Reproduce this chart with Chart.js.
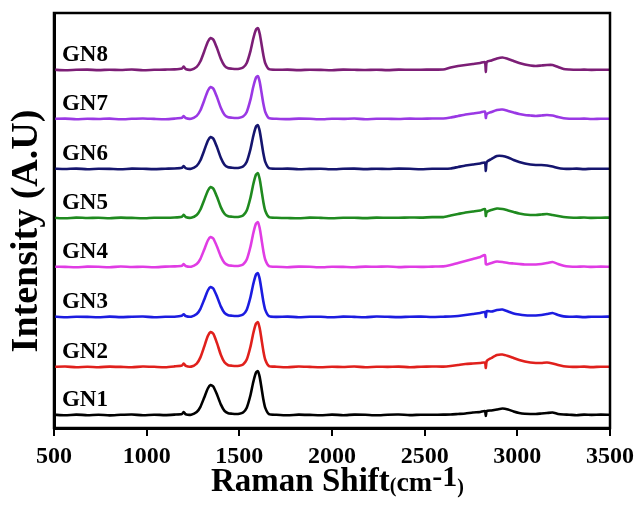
<!DOCTYPE html>
<html>
<head>
<meta charset="utf-8">
<script src="https://cdn.jsdelivr.net/npm/chart.js@4.4.1/dist/chart.umd.min.js"></script>
<style>
  html, body { margin: 0; padding: 0; background: #fff; }
  canvas { display: block; }
</style>
</head>
<body>
<canvas id="c" width="641" height="506"></canvas>
<script>
// Raman shift positions (cm-1), shared by all spectra
const SHIFT = [
  500, 560, 620, 680, 740, 800, 860, 920, 980, 1040, 1100, 1150,
  1190, 1200, 1210,
  1240, 1270, 1290, 1310, 1330, 1345, 1360, 1380, 1400, 1420, 1440, 1460, 1480, 1500,
  1520, 1540, 1560, 1575, 1590, 1600, 1610, 1620, 1630, 1640, 1660,
  1700, 1760, 1820, 1880, 1940, 2000, 2060, 2120, 2180, 2240, 2300, 2360, 2420, 2480, 2540, 2600,
  2640, 2680, 2720, 2760, 2800, 2825, 2830, 2835, 2860, 2890, 2920, 2950, 2980, 3010,
  3040, 3070, 3100, 3130, 3160, 3190, 3220, 3250, 3280, 3320, 3360, 3400, 3450, 3500
];

const NAMES  = ["GN1", "GN2", "GN3", "GN4", "GN5", "GN6", "GN7", "GN8"];
const COLORS = ["#000000", "#e0201c", "#1c1ce0", "#e03ce4", "#1f8a1f", "#15156e", "#9a38e4", "#7c1e76"];
// vertical stacking offset of each spectrum (a.u.)
const OFFSETS = [13, 61, 111, 161, 210, 259, 309, 358];

// intensities (a.u., relative to each baseline)
const GN1 = [
  0.3, -0.3, 0.4, -0.2, 0.3, -0.4, 0.2, 0.5, -0.2, 0.3, -0.1, 0.4,
  1.0, 3.0, 0.8,
  0.3, 2.9, 8.2, 17.2, 26.5, 30.0, 28.4, 20.2, 10.6, 4.1, 1.7, 1.3, 1.0, 1.2,
  2.5, 7.3, 19.7, 32.8, 42.5, 43.8, 37.9, 26.7, 15.3, 7.1, 0.8,
  0.2, -0.3, 0.4, 0.1, -0.3, 0.4, -0.2, 0.4, 0.2, -0.3, 0.3, 0.5, -0.1, 0.3, 0.2, 0.4,
  0.5, 1.0, 1.5, 2.5, 3.0, 4.0, -1.0, 4.0, 4.5, 5.5, 6.5, 5.5, 3.5, 2.0,
  1.2, 1.0, 1.0, 1.5, 2.0, 2.5, 1.0, 0.5, 0.3, -0.2, 0.4, 0.1, 0.4, 0.2
];
const GN2 = [
  0.2, 0.5, -0.3, 0.3, -0.2, 0.4, 0.1, -0.3, 0.5, 0.2, -0.2, 0.6,
  1.5, 3.5, 1.2,
  0.4, 3.4, 9.6, 20.1, 30.9, 35.0, 33.1, 23.6, 12.3, 4.7, 1.8, 1.3, 1.0, 1.3,
  2.5, 7.4, 20.2, 33.5, 43.4, 44.8, 38.8, 27.3, 15.6, 7.3, 0.9,
  0.3, -0.2, 0.5, 0.1, -0.3, 0.3, 0.0, 0.5, -0.2, 0.3, 0.1, 0.4, -0.2, 0.3, 0.5, 0.4,
  1.0, 2.0, 3.0, 3.5, 4.0, 4.5, -1.0, 6.0, 9.0, 12.0, 12.5, 11.0, 9.0, 7.0,
  5.5, 4.5, 4.0, 4.0, 4.5, 3.5, 2.0, 0.8, 0.3, 0.1, 0.4, -0.1, 0.3, 0.2
];
const GN3 = [
  0.4, -0.2, 0.3, 0.1, -0.3, 0.4, -0.1, 0.3, 0.5, -0.2, 0.2, 0.3,
  1.2, 2.8, 1.0,
  0.3, 2.9, 8.2, 17.2, 26.5, 30.0, 28.4, 20.2, 10.6, 4.1, 1.7, 1.3, 1.0, 1.2,
  2.5, 7.3, 19.7, 32.8, 42.5, 43.8, 37.9, 26.7, 15.3, 7.1, 0.8,
  0.1, 0.4, -0.2, 0.3, 0.2, -0.3, 0.4, 0.1, -0.2, 0.5, 0.2, -0.1, 0.3, 0.4, 0.0, 0.3,
  0.5, 1.0, 2.0, 3.0, 4.0, 5.0, 0.0, 6.0, 5.5, 7.0, 7.5, 5.5, 3.5, 2.5,
  1.8, 1.5, 1.5, 2.0, 3.0, 4.0, 2.0, 0.6, 0.2, 0.4, -0.1, 0.3, 0.2, 0.4
];
const GN4 = [
  0.3, 0.1, -0.3, 0.4, 0.2, -0.2, 0.5, 0.0, 0.3, -0.3, 0.4, 0.6,
  1.2, 3.0, 1.0,
  0.3, 2.9, 8.2, 17.2, 26.5, 30.0, 28.4, 20.2, 10.6, 4.1, 1.7, 1.3, 1.0, 1.2,
  2.5, 7.4, 20.2, 33.5, 43.4, 44.8, 38.8, 27.3, 15.6, 7.3, 0.9,
  0.2, -0.2, 0.4, 0.2, -0.3, 0.3, 0.1, -0.2, 0.4, 0.2, 0.5, -0.1, 0.3, 0.1, 0.4, 0.6,
  2.0, 4.0, 6.0, 8.0, 10.0, 12.0, 3.0, 2.5, 4.0, 5.5, 5.0, 4.0, 3.5, 3.0,
  2.5, 2.5, 2.5, 3.0, 4.0, 5.0, 3.0, 1.2, 0.5, 0.3, 0.5, 0.1, 0.4, 0.2
];
const GN5 = [
  0.2, -0.3, 0.4, 0.0, 0.3, -0.2, 0.4, 0.1, -0.3, 0.3, 0.2, 0.5,
  1.3, 3.2, 1.0,
  0.3, 3.0, 8.5, 17.8, 27.3, 31.0, 29.3, 20.9, 10.9, 4.2, 1.7, 1.3, 1.0, 1.2,
  2.5, 7.4, 20.2, 33.5, 43.4, 44.8, 38.8, 27.3, 15.6, 7.3, 0.9,
  0.3, 0.0, -0.3, 0.4, 0.1, -0.2, 0.3, 0.2, -0.1, 0.4, 0.2, 0.3, 0.5, 0.4, 0.9, 0.9,
  2.5, 4.0, 5.5, 6.5, 7.5, 9.0, 2.0, 6.0, 8.0, 9.5, 9.0, 7.5, 6.0, 4.5,
  3.5, 3.0, 3.0, 3.5, 4.0, 3.0, 2.0, 1.0, 0.5, 0.2, 0.5, 0.1, 0.3, 0.4
];
const GN6 = [
  0.3, 0.0, 0.4, -0.2, 0.3, 0.1, -0.3, 0.4, 0.2, -0.1, 0.3, 0.5,
  1.2, 3.0, 0.9,
  0.3, 3.1, 8.7, 18.3, 28.2, 32.0, 30.3, 21.6, 11.3, 4.3, 1.7, 1.3, 1.0, 1.2,
  2.5, 7.3, 19.7, 32.8, 42.5, 43.8, 37.9, 26.7, 15.3, 7.1, 0.8,
  0.2, 0.4, -0.2, 0.1, 0.3, -0.3, 0.2, 0.4, -0.1, 0.3, 0.0, 0.4, 0.2, -0.2, 0.3, 0.2,
  0.5, 2.0, 3.5, 4.5, 5.5, 6.5, -2.0, 7.0, 10.0, 13.0, 13.0, 11.5, 9.0, 7.0,
  5.5, 4.5, 4.0, 4.0, 3.5, 2.5, 1.0, 0.3, 0.1, 0.4, -0.1, 0.3, 0.2, 0.3
];
const GN7 = [
  0.1, 0.4, -0.2, 0.3, 0.0, 0.4, -0.3, 0.2, 0.5, 0.1, -0.2, 0.4,
  1.2, 3.0, 1.0,
  0.3, 3.1, 8.7, 18.3, 28.2, 32.0, 30.3, 21.6, 11.3, 4.3, 1.7, 1.3, 1.0, 1.2,
  2.5, 7.1, 19.3, 32.0, 41.5, 42.8, 37.1, 26.1, 14.9, 7.0, 0.8,
  0.3, -0.1, 0.4, 0.2, -0.3, 0.3, 0.1, 0.5, -0.2, 0.3, 0.2, 0.0, 0.4, 0.2, 0.5, 0.5,
  1.5, 3.0, 4.5, 5.5, 6.5, 7.5, 1.0, 5.0, 7.0, 9.0, 9.5, 8.0, 6.5, 5.0,
  4.0, 3.5, 3.0, 3.5, 4.0, 3.5, 2.0, 0.8, 0.3, 0.2, 0.4, 0.0, 0.3, 0.3
];
const GN8 = [
  0.3, -0.2, 0.2, 0.4, -0.1, 0.3, 0.0, 0.5, -0.2, 0.2, 0.4, 0.6,
  1.5, 3.5, 1.0,
  0.3, 3.1, 8.7, 18.3, 28.2, 32.0, 30.3, 21.6, 11.3, 4.3, 1.7, 1.3, 1.0, 1.2,
  2.4, 7.0, 18.8, 31.3, 40.5, 41.8, 36.2, 25.5, 14.6, 6.8, 0.8,
  0.2, 0.4, -0.1, 0.3, 0.1, -0.2, 0.4, 0.2, 0.0, 0.3, -0.1, 0.4, 0.2, 0.3, 0.4, 0.5,
  2.5, 4.0, 5.0, 6.0, 7.0, 8.0, -2.0, 8.0, 9.5, 11.5, 12.5, 11.0, 9.0, 7.0,
  5.5, 4.5, 4.0, 4.5, 5.0, 5.0, 3.0, 1.0, 0.5, 0.2, 0.4, 0.1, 0.3, 0.2
];
const SPECTRA = [GN1, GN2, GN3, GN4, GN5, GN6, GN7, GN8];

const X_TICKS = [500, 1000, 1500, 2000, 2500, 3000, 3500];
const SERIF = "'Liberation Serif', 'Times New Roman', serif";

// -------------------------------------------------------------
// labels, axis titles and the box around the plot
// -------------------------------------------------------------
const decor = {
  id: "decor",
  afterDraw(chart){
    const {ctx, chartArea: a, scales: {x, y}} = chart;
    ctx.save();

    // frame
    ctx.strokeStyle = "#000";
    ctx.lineWidth = 2.5;
    ctx.strokeRect(a.left, a.top, a.right - a.left, a.bottom - a.top);

    // GN labels above each baseline
    ctx.fillStyle = "#000";
    ctx.textAlign = "left";
    ctx.textBaseline = "alphabetic";
    ctx.font = "bold 23px " + SERIF;
    NAMES.forEach((n, i) => {
      ctx.fillText(n, x.getPixelForValue(543), y.getPixelForValue(OFFSETS[i] + 9));
    });

    // y title
    ctx.save();
    ctx.translate(37, 231);
    ctx.rotate(-Math.PI / 2);
    ctx.textAlign = "center";
    ctx.font = "bold 38px " + SERIF;
    ctx.fillText("Intensity (A.U)", 0, 0);
    ctx.restore();

    // x title: Raman Shift(cm-1)
    const parts = [
      ["Raman Shift", 33, 491],
      ["(", 20, 492],
      ["cm", 28, 491],
      ["-1", 30, 486],
      [")", 20, 493],
    ];
    let px = 211;
    ctx.textAlign = "left";
    for(const [t, s, by] of parts){
      ctx.font = "bold " + s + "px " + SERIF;
      ctx.fillText(t, px, by);
      px += ctx.measureText(t).width;
    }
    ctx.restore();
  }
};

new Chart(document.getElementById("c"), {
  type: "line",
  data: {
    datasets: SPECTRA.map((s, i) => ({
      label: NAMES[i],
      data: SHIFT.map((sx, k) => ({x: sx, y: s[k] + OFFSETS[i]})),
      borderColor: COLORS[i],
      borderWidth: 2.6,
      pointRadius: 0,
      tension: 0.2,
      fill: false
    }))
  },
  options: {
    responsive: false,
    animation: false,
    events: [],
    layout: { padding: { top: 13, right: 31, left: 0, bottom: 0 } },
    plugins: { legend: { display: false }, tooltip: { enabled: false } },
    scales: {
      x: {
        type: "linear",
        min: 500, max: 3500,
        afterBuildTicks: s => { s.ticks = X_TICKS.map(v => ({value: v})); },
        afterFit: s => { s.height = 78; },
        grid: { display: true, drawOnChartArea: false, drawTicks: true, tickLength: 8, color: "#000", lineWidth: 2 },
        border: { display: true, color: "#000", width: 3 },
        ticks: { color: "#000", padding: 6, maxRotation: 0, autoSkip: false,
                 callback: v => String(v),
                 font: { family: SERIF, size: 24, weight: "bold" } }
      },
      y: {
        min: 0, max: 415,
        afterFit: s => { s.width = 54; },
        grid: { display: false },
        border: { display: true, color: "#000", width: 3 },
        ticks: { display: false }
      }
    }
  },
  plugins: [decor]
});
</script>
</body>
</html>
